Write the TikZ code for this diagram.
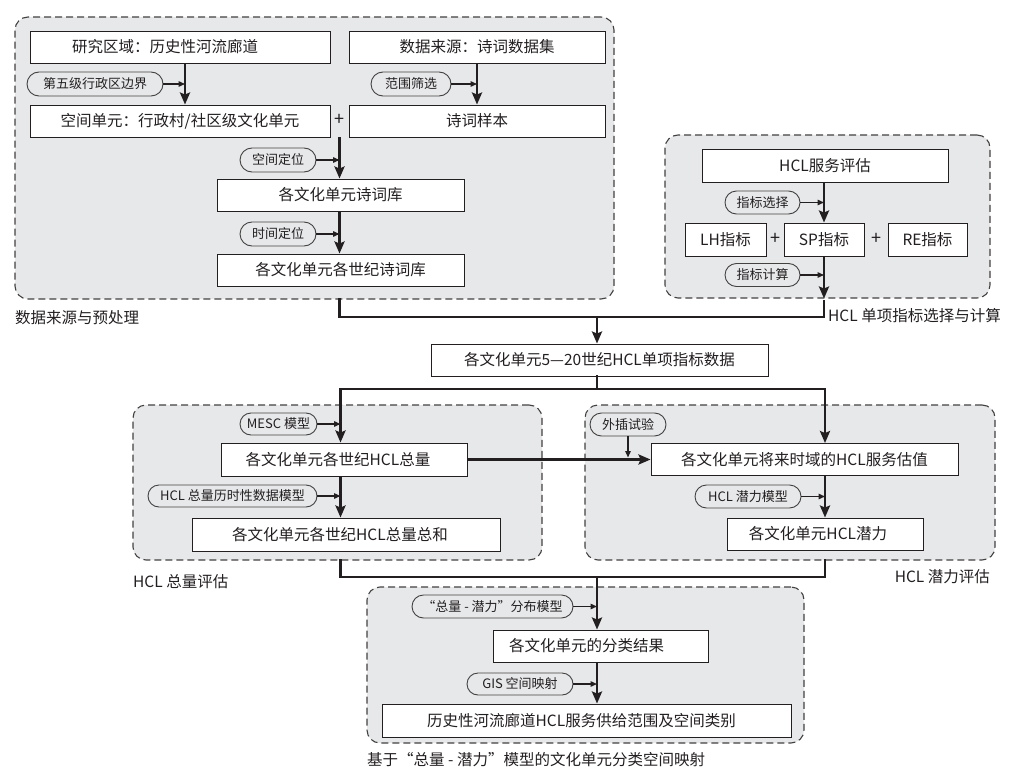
\documentclass[tikz,border=0pt]{standalone}
\usepackage{fontspec}
\setmainfont{Noto Sans CJK SC}
\usetikzlibrary{arrows.meta,shapes.misc,calc}
\definecolor{panelgray}{RGB}{231,232,234}
\definecolor{ink}{RGB}{35,31,32}
\newcommand{\fsz}[1]{\fontsize{#1pt}{#1pt}\selectfont}
\newcommand{\lsh}[1]{\hspace*{#1pt}}
\tikzset{
  panel/.style={draw=ink!85, fill=panelgray, rounded corners=13pt, line width=1.1pt, dash pattern=on 7pt off 4pt, inner sep=0pt},
  box/.style={draw=ink, fill=white, line width=0.9pt, inner sep=0pt, text=ink, font=\fsz{15.5}},
  pill/.style={rounded rectangle, draw=ink!85, fill=panelgray, line width=0.9pt, inner sep=0pt, text=ink, font=\fsz{13}},
  lbl/.style={inner sep=0pt, text=ink, font=\fsz{15.5}},
  plus/.style={inner sep=0pt, text=ink, font=\fsz{18}},
  conn/.style={draw=ink, line width=2.6pt, -{Stealth[length=12pt,width=10pt,inset=2pt]}},
  bline/.style={draw=ink, line width=2.6pt, line cap=rect, line join=miter},
  sarrow/.style={draw=ink, line width=1.4pt, -{Triangle[length=6.5pt,width=5.5pt]}}
}
\begin{document}
\begin{tikzpicture}[x=1pt,y=-1pt]
\useasboundingbox (0,0) rectangle (1014,773);
% panels
\node[panel, minimum width=599pt, minimum height=282pt] (P1) at (314.5,158) {};
\node[panel, minimum width=325pt, minimum height=163pt] (P2) at (827.5,216.5) {};
\node[panel, minimum width=409pt, minimum height=155pt] (P3) at (337.5,482.5) {};
\node[panel, minimum width=410pt, minimum height=155pt] (P4) at (790,482.5) {};
\node[panel, minimum width=437pt, minimum height=156pt] (P5) at (585.5,665) {};
% panel labels
\node[lbl, anchor=west] (L1) at (15,318) {数据来源与预处理};
\node[lbl, anchor=west] (L2) at (828,316) {HCL 单项指标选择与计算};
\node[lbl, anchor=west] (L3) at (133,582) {HCL 总量评估};
\node[lbl, anchor=east] (L4) at (990,577) {HCL 潜力评估};
\node[lbl, anchor=west] (L5) at (367,760) {基于“总量 - 潜力”模型的文化单元分类空间映射};
% vertical guide coordinates
\coordinate (v1) at (185,0);
\coordinate (v2) at (477,0);
\coordinate (v3) at (339.5,0);
\coordinate (v4) at (824,0);
\coordinate (v5) at (597,0);
\coordinate (v6) at (340.5,0);
\coordinate (v7) at (825,0);
\coordinate (j1) at (0,317);
\coordinate (j2) at (0,389);
\coordinate (j3) at (0,577);
% panel 1
\node[box, minimum width=300pt, minimum height=32pt] (b1) at (180,47) {研究区域：历史性河流廊道\lsh{30}};
\node[box, minimum width=256pt, minimum height=32pt] (b2) at (477,47) {数据来源：诗词数据集};
\node[box, minimum width=300pt, minimum height=32pt] (b3) at (180,121) {空间单元：行政村/社区级文化单元};
\node[box, minimum width=256pt, minimum height=32pt] (b4) at (477,121) {诗词样本};
\node[plus] (pl1) at (339.5,120) {+};
\node[box, minimum width=247pt, minimum height=32pt] (b5) at (340.5,195) {各文化单元诗词库};
\node[box, minimum width=247pt, minimum height=32pt] (b6) at (340.5,270) {各文化单元各世纪诗词库};
\node[pill, minimum width=136pt, minimum height=24pt] (p1) at (95,84) {第五级行政区边界};
\node[pill, minimum width=80pt, minimum height=24pt] (p2) at (411,84) {范围筛选};
\node[pill, minimum width=76pt, minimum height=24pt] (p3) at (278,160) {空间定位};
\node[pill, minimum width=76pt, minimum height=24pt] (p4) at (278,234) {时间定位};
% panel 2
\node[box, minimum width=246pt, minimum height=33pt] (b8) at (825,165.5) {HCL服务评估};
\node[box, minimum width=81pt, minimum height=33pt] (b9) at (725.5,239.5) {LH指标};
\node[box, minimum width=80pt, minimum height=33pt] (b10) at (824,239.5) {SP指标};
\node[box, minimum width=79pt, minimum height=33pt] (b11) at (927.5,239.5) {RE指标};
\node[plus] (pl2) at (775,239) {+};
\node[plus] (pl3) at (876,239) {+};
\node[pill, minimum width=75pt, minimum height=23pt] (q1) at (762.5,202.5) {指标选择};
\node[pill, minimum width=75pt, minimum height=23pt] (q2) at (762.5,275) {指标计算};
% middle box
\node[box, minimum width=337pt, minimum height=32pt] (b7) at (599.5,360) {各文化单元5—20世纪HCL单项指标数据};
% panel 3
\node[box, minimum width=246pt, minimum height=33pt] (b12) at (344,459.5) {各文化单元各世纪HCL总量\lsh{12}};
\node[box, minimum width=308pt, minimum height=33pt] (b13) at (346,534.5) {各文化单元各世纪HCL总量总和\lsh{12}};
\node[pill, minimum width=77pt, minimum height=22pt] (r1) at (278.5,424) {MESC 模型};
\node[pill, minimum width=169pt, minimum height=22pt] (r2) at (232.5,496) {HCL 总量历时性数据模型};
% panel 4
\node[box, minimum width=307pt, minimum height=32pt] (b14) at (804.5,459.5) {各文化单元将来时域的HCL服务估值};
\node[box, minimum width=196pt, minimum height=32pt] (b15) at (825,534) {各文化单元HCL潜力\lsh{14}};
\node[pill, minimum width=76pt, minimum height=23pt] (r3) at (628,424.5) {外插试验};
\node[pill, minimum width=106pt, minimum height=23pt] (r4) at (748,496.5) {HCL 潜力模型};
% panel 5
\node[box, minimum width=215pt, minimum height=32pt] (b16) at (600.5,646) {各文化单元的分类结果\lsh{28}};
\node[box, minimum width=409pt, minimum height=33pt] (b17) at (586.5,720.5) {历史性河流廊道HCL服务供给范围及空间类别\lsh{10}};
\node[pill, minimum width=161pt, minimum height=23pt] (s1) at (492.5,606.5) {“总量 - 潜力”分布模型};
\node[pill, minimum width=106pt, minimum height=22pt] (s2) at (520,684) {GIS 空间映射};
% connectors panel 1
\draw[conn] (b1.south -| v1) -- (b3.north -| v1);
\draw[sarrow] (p1.east) -- (p1.east -| v1);
\draw[conn] (b2.south) -- (b4.north);
\draw[sarrow] (p2.east) -- (p2.east -| v2);
\draw[conn] (b3.south -| v3) -- (b5.north -| v3);
\draw[sarrow] (p3.east) -- (p3.east -| v3);
\draw[conn] (b5.south -| v3) -- (b6.north -| v3);
\draw[sarrow] (p4.east) -- (p4.east -| v3);
% connectors panel 2
\draw[conn] (b8.south -| v4) -- (b10.north -| v4);
\draw[sarrow] (q1.east) -- (q1.east -| v4);
\draw[conn] (b10.south -| v4) -- (P2.south -| v4);
\draw[sarrow] (q2.east) -- (q2.east -| v4);
% join 1
\draw[bline] (P1.south -| v3) -- (j1 -| v3) -- (j1 -| v4) -- ([yshift=-3pt]P2.south -| v4);
\draw[conn] (j1 -| v5) -- (b7.north -| v5);
% split 2
\draw[bline] (b7.south -| v5) -- (j2 -| v5);
\draw[conn, {Stealth[length=12pt,width=10pt,inset=2pt]}-{Stealth[length=12pt,width=10pt,inset=2pt]}, line join=miter] (b12.north -| v6) -- (j2 -| v6) -- (j2 -| v7) -- (b14.north -| v7);
% panel 3
\draw[sarrow] (r1.east) -- (r1.east -| v6);
\draw[conn] (b12.south -| v6) -- (b13.north -| v6);
\draw[sarrow] (r2.east) -- (r2.east -| v6);
\draw[conn] (b12.east) -- (b12.east -| b14.west);
\draw[sarrow, shorten >=2pt] (r3.south) -- (r3.south |- b12.east);
% panel 4
\draw[sarrow] (r4.east) -- (r4.east -| v7);
\draw[conn] (b14.south -| v7) -- (b15.north -| v7);
% join 3
\draw[bline] (P3.south -| v6) -- (j3 -| v6) -- (j3 -| v7) -- (P4.south -| v7);
\draw[conn] (j3 -| v5) -- (b16.north -| v5);
% panel 5
\draw[sarrow] (s1.east) -- (s1.east -| v5);
\draw[conn] (b16.south -| v5) -- (b17.north -| v5);
\draw[sarrow] (s2.east) -- (s2.east -| v5);
\end{tikzpicture}
\end{document}
